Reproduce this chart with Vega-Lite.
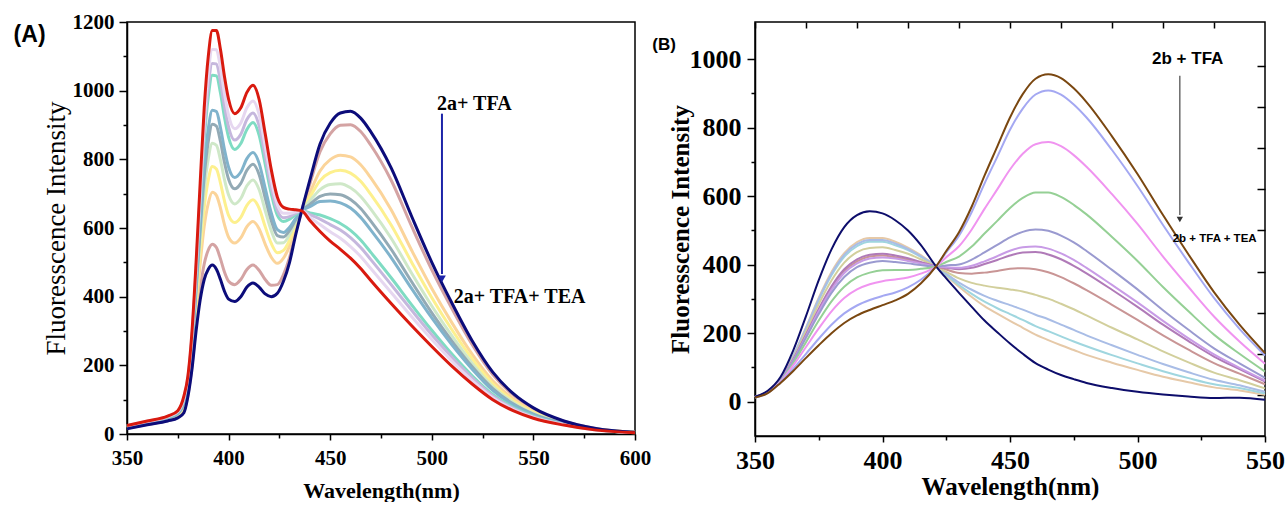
{
"$schema":"https://vega.github.io/schema/vega-lite/v6.json",
"background":"white",
"padding":{"left":12,"top":10,"right":0,"bottom":0},
"bounds":"flush",
"spacing":120,
"resolve":{"scale":{"color":"independent"}},
"config":{"view":{"stroke":"black","strokeWidth":1.5},"axis":{"grid":false,"domainColor":"black","domainWidth":1.5,"tickColor":"black","tickWidth":1.5,"labelColor":"black","titleColor":"black"}},
"datasets":{
"A":[
{"s":"n","w":350,"i":15},{"s":"n","w":360,"i":27},{"s":"n","w":370,"i":38},{"s":"n","w":375,"i":47},{"s":"n","w":378,"i":62},{"s":"n","w":380,"i":110},{"s":"n","w":382,"i":190},{"s":"n","w":384,"i":300},{"s":"n","w":386,"i":390},{"s":"n","w":388,"i":450},{"s":"n","w":390,"i":480},{"s":"n","w":392,"i":492},{"s":"n","w":394,"i":480},{"s":"n","w":396,"i":450},{"s":"n","w":398,"i":415},{"s":"n","w":400,"i":393},{"s":"n","w":403,"i":386},{"s":"n","w":406,"i":400},{"s":"n","w":409,"i":428},{"s":"n","w":412,"i":440},{"s":"n","w":415,"i":428},{"s":"n","w":418,"i":408},{"s":"n","w":421,"i":400},{"s":"n","w":424,"i":410},{"s":"n","w":427,"i":445},{"s":"n","w":430,"i":500},{"s":"n","w":433,"i":580},{"s":"n","w":436,"i":651},{"s":"n","w":440,"i":740},{"s":"n","w":445,"i":845},{"s":"n","w":450,"i":905},{"s":"n","w":455,"i":935},{"s":"n","w":460,"i":940},{"s":"n","w":465,"i":920},{"s":"n","w":470,"i":880},{"s":"n","w":480,"i":775},{"s":"n","w":490,"i":635},{"s":"n","w":500,"i":500},{"s":"n","w":510,"i":380},{"s":"n","w":520,"i":270},{"s":"n","w":530,"i":180},{"s":"n","w":540,"i":118},{"s":"n","w":550,"i":76},{"s":"n","w":565,"i":38},{"s":"n","w":580,"i":17},{"s":"n","w":600,"i":5},
{"s":"p1","w":350,"i":16},{"s":"p1","w":360,"i":28},{"s":"p1","w":370,"i":39},{"s":"p1","w":375,"i":49},{"s":"p1","w":378,"i":66},{"s":"p1","w":380,"i":115},{"s":"p1","w":382,"i":200},{"s":"p1","w":384,"i":318},{"s":"p1","w":386,"i":421},{"s":"p1","w":388,"i":495},{"s":"p1","w":390,"i":536},{"s":"p1","w":392,"i":553},{"s":"p1","w":394,"i":543},{"s":"p1","w":396,"i":510},{"s":"p1","w":398,"i":471},{"s":"p1","w":400,"i":445},{"s":"p1","w":403,"i":435},{"s":"p1","w":406,"i":450},{"s":"p1","w":409,"i":479},{"s":"p1","w":412,"i":492},{"s":"p1","w":415,"i":477},{"s":"p1","w":418,"i":450},{"s":"p1","w":421,"i":433},{"s":"p1","w":424,"i":435},{"s":"p1","w":427,"i":464},{"s":"p1","w":430,"i":514},{"s":"p1","w":433,"i":587},{"s":"p1","w":436,"i":651},{"s":"p1","w":440,"i":729},{"s":"p1","w":445,"i":822},{"s":"p1","w":450,"i":874},{"s":"p1","w":455,"i":899},{"s":"p1","w":460,"i":901},{"s":"p1","w":465,"i":881},{"s":"p1","w":470,"i":841},{"s":"p1","w":480,"i":739},{"s":"p1","w":490,"i":606},{"s":"p1","w":500,"i":478},{"s":"p1","w":510,"i":364},{"s":"p1","w":520,"i":259},{"s":"p1","w":530,"i":173},{"s":"p1","w":540,"i":114},{"s":"p1","w":550,"i":73},{"s":"p1","w":565,"i":37},{"s":"p1","w":580,"i":17},{"s":"p1","w":600,"i":5},
{"s":"p2","w":350,"i":18},{"s":"p2","w":360,"i":30},{"s":"p2","w":370,"i":42},{"s":"p2","w":375,"i":54},{"s":"p2","w":378,"i":77},{"s":"p2","w":380,"i":129},{"s":"p2","w":382,"i":224},{"s":"p2","w":384,"i":362},{"s":"p2","w":386,"i":495},{"s":"p2","w":388,"i":605},{"s":"p2","w":390,"i":672},{"s":"p2","w":392,"i":704},{"s":"p2","w":394,"i":695},{"s":"p2","w":396,"i":658},{"s":"p2","w":398,"i":609},{"s":"p2","w":400,"i":573},{"s":"p2","w":403,"i":556},{"s":"p2","w":406,"i":571},{"s":"p2","w":409,"i":604},{"s":"p2","w":412,"i":619},{"s":"p2","w":415,"i":598},{"s":"p2","w":418,"i":553},{"s":"p2","w":421,"i":515},{"s":"p2","w":424,"i":497},{"s":"p2","w":427,"i":512},{"s":"p2","w":430,"i":548},{"s":"p2","w":433,"i":603},{"s":"p2","w":436,"i":651},{"s":"p2","w":440,"i":703},{"s":"p2","w":445,"i":766},{"s":"p2","w":450,"i":799},{"s":"p2","w":455,"i":812},{"s":"p2","w":460,"i":807},{"s":"p2","w":465,"i":784},{"s":"p2","w":470,"i":746},{"s":"p2","w":480,"i":653},{"s":"p2","w":490,"i":536},{"s":"p2","w":500,"i":424},{"s":"p2","w":510,"i":323},{"s":"p2","w":520,"i":231},{"s":"p2","w":530,"i":155},{"s":"p2","w":540,"i":103},{"s":"p2","w":550,"i":67},{"s":"p2","w":565,"i":34},{"s":"p2","w":580,"i":15},{"s":"p2","w":600,"i":5},
{"s":"p3","w":350,"i":19},{"s":"p3","w":360,"i":32},{"s":"p3","w":370,"i":44},{"s":"p3","w":375,"i":56},{"s":"p3","w":378,"i":82},{"s":"p3","w":380,"i":135},{"s":"p3","w":382,"i":236},{"s":"p3","w":384,"i":384},{"s":"p3","w":386,"i":533},{"s":"p3","w":388,"i":660},{"s":"p3","w":390,"i":740},{"s":"p3","w":392,"i":779},{"s":"p3","w":394,"i":772},{"s":"p3","w":396,"i":731},{"s":"p3","w":398,"i":678},{"s":"p3","w":400,"i":637},{"s":"p3","w":403,"i":616},{"s":"p3","w":406,"i":631},{"s":"p3","w":409,"i":666},{"s":"p3","w":412,"i":682},{"s":"p3","w":415,"i":658},{"s":"p3","w":418,"i":604},{"s":"p3","w":421,"i":555},{"s":"p3","w":424,"i":528},{"s":"p3","w":427,"i":535},{"s":"p3","w":430,"i":565},{"s":"p3","w":433,"i":611},{"s":"p3","w":436,"i":651},{"s":"p3","w":440,"i":690},{"s":"p3","w":445,"i":738},{"s":"p3","w":450,"i":761},{"s":"p3","w":455,"i":768},{"s":"p3","w":460,"i":760},{"s":"p3","w":465,"i":736},{"s":"p3","w":470,"i":698},{"s":"p3","w":480,"i":609},{"s":"p3","w":490,"i":501},{"s":"p3","w":500,"i":397},{"s":"p3","w":510,"i":303},{"s":"p3","w":520,"i":218},{"s":"p3","w":530,"i":146},{"s":"p3","w":540,"i":97},{"s":"p3","w":550,"i":63},{"s":"p3","w":565,"i":33},{"s":"p3","w":580,"i":15},{"s":"p3","w":600,"i":5},
{"s":"p4","w":350,"i":20},{"s":"p4","w":360,"i":33},{"s":"p4","w":370,"i":45},{"s":"p4","w":375,"i":58},{"s":"p4","w":378,"i":87},{"s":"p4","w":380,"i":141},{"s":"p4","w":382,"i":247},{"s":"p4","w":384,"i":404},{"s":"p4","w":386,"i":567},{"s":"p4","w":388,"i":710},{"s":"p4","w":390,"i":802},{"s":"p4","w":392,"i":847},{"s":"p4","w":394,"i":841},{"s":"p4","w":396,"i":798},{"s":"p4","w":398,"i":740},{"s":"p4","w":400,"i":696},{"s":"p4","w":403,"i":670},{"s":"p4","w":406,"i":686},{"s":"p4","w":409,"i":723},{"s":"p4","w":412,"i":740},{"s":"p4","w":415,"i":712},{"s":"p4","w":418,"i":651},{"s":"p4","w":421,"i":592},{"s":"p4","w":424,"i":556},{"s":"p4","w":427,"i":557},{"s":"p4","w":430,"i":581},{"s":"p4","w":433,"i":618},{"s":"p4","w":436,"i":650},{"s":"p4","w":440,"i":679},{"s":"p4","w":445,"i":712},{"s":"p4","w":450,"i":727},{"s":"p4","w":455,"i":729},{"s":"p4","w":460,"i":717},{"s":"p4","w":465,"i":692},{"s":"p4","w":470,"i":655},{"s":"p4","w":480,"i":570},{"s":"p4","w":490,"i":469},{"s":"p4","w":500,"i":373},{"s":"p4","w":510,"i":285},{"s":"p4","w":520,"i":205},{"s":"p4","w":530,"i":138},{"s":"p4","w":540,"i":92},{"s":"p4","w":550,"i":60},{"s":"p4","w":565,"i":32},{"s":"p4","w":580,"i":14},{"s":"p4","w":600,"i":4},
{"s":"p5","w":350,"i":21},{"s":"p5","w":360,"i":34},{"s":"p5","w":370,"i":46},{"s":"p5","w":375,"i":60},{"s":"p5","w":378,"i":91},{"s":"p5","w":380,"i":146},{"s":"p5","w":382,"i":256},{"s":"p5","w":384,"i":420},{"s":"p5","w":386,"i":594},{"s":"p5","w":388,"i":750},{"s":"p5","w":390,"i":852},{"s":"p5","w":392,"i":902},{"s":"p5","w":394,"i":897},{"s":"p5","w":396,"i":852},{"s":"p5","w":398,"i":790},{"s":"p5","w":400,"i":742},{"s":"p5","w":403,"i":714},{"s":"p5","w":406,"i":730},{"s":"p5","w":409,"i":768},{"s":"p5","w":412,"i":786},{"s":"p5","w":415,"i":756},{"s":"p5","w":418,"i":688},{"s":"p5","w":421,"i":622},{"s":"p5","w":424,"i":578},{"s":"p5","w":427,"i":574},{"s":"p5","w":430,"i":593},{"s":"p5","w":433,"i":624},{"s":"p5","w":436,"i":650},{"s":"p5","w":440,"i":669},{"s":"p5","w":445,"i":692},{"s":"p5","w":450,"i":699},{"s":"p5","w":455,"i":697},{"s":"p5","w":460,"i":683},{"s":"p5","w":465,"i":657},{"s":"p5","w":470,"i":620},{"s":"p5","w":480,"i":538},{"s":"p5","w":490,"i":444},{"s":"p5","w":500,"i":353},{"s":"p5","w":510,"i":270},{"s":"p5","w":520,"i":195},{"s":"p5","w":530,"i":132},{"s":"p5","w":540,"i":88},{"s":"p5","w":550,"i":58},{"s":"p5","w":565,"i":31},{"s":"p5","w":580,"i":14},{"s":"p5","w":600,"i":4},
{"s":"p6","w":350,"i":22},{"s":"p6","w":360,"i":34},{"s":"p6","w":370,"i":47},{"s":"p6","w":375,"i":61},{"s":"p6","w":378,"i":94},{"s":"p6","w":380,"i":150},{"s":"p6","w":382,"i":263},{"s":"p6","w":384,"i":432},{"s":"p6","w":386,"i":614},{"s":"p6","w":388,"i":780},{"s":"p6","w":390,"i":889},{"s":"p6","w":392,"i":943},{"s":"p6","w":394,"i":939},{"s":"p6","w":396,"i":892},{"s":"p6","w":398,"i":828},{"s":"p6","w":400,"i":777},{"s":"p6","w":403,"i":747},{"s":"p6","w":406,"i":763},{"s":"p6","w":409,"i":802},{"s":"p6","w":412,"i":820},{"s":"p6","w":415,"i":789},{"s":"p6","w":418,"i":716},{"s":"p6","w":421,"i":644},{"s":"p6","w":424,"i":595},{"s":"p6","w":427,"i":587},{"s":"p6","w":430,"i":602},{"s":"p6","w":433,"i":628},{"s":"p6","w":436,"i":650},{"s":"p6","w":440,"i":662},{"s":"p6","w":445,"i":677},{"s":"p6","w":450,"i":679},{"s":"p6","w":455,"i":673},{"s":"p6","w":460,"i":658},{"s":"p6","w":465,"i":631},{"s":"p6","w":470,"i":594},{"s":"p6","w":480,"i":514},{"s":"p6","w":490,"i":424},{"s":"p6","w":500,"i":338},{"s":"p6","w":510,"i":259},{"s":"p6","w":520,"i":188},{"s":"p6","w":530,"i":127},{"s":"p6","w":540,"i":85},{"s":"p6","w":550,"i":56},{"s":"p6","w":565,"i":30},{"s":"p6","w":580,"i":14},{"s":"p6","w":600,"i":4},
{"s":"p7","w":350,"i":23},{"s":"p7","w":360,"i":36},{"s":"p7","w":370,"i":49},{"s":"p7","w":375,"i":64},{"s":"p7","w":378,"i":101},{"s":"p7","w":380,"i":159},{"s":"p7","w":382,"i":279},{"s":"p7","w":384,"i":462},{"s":"p7","w":386,"i":665},{"s":"p7","w":388,"i":855},{"s":"p7","w":390,"i":982},{"s":"p7","w":392,"i":1045},{"s":"p7","w":394,"i":1043},{"s":"p7","w":396,"i":993},{"s":"p7","w":398,"i":921},{"s":"p7","w":400,"i":864},{"s":"p7","w":403,"i":829},{"s":"p7","w":406,"i":846},{"s":"p7","w":409,"i":887},{"s":"p7","w":412,"i":907},{"s":"p7","w":415,"i":871},{"s":"p7","w":418,"i":786},{"s":"p7","w":421,"i":700},{"s":"p7","w":424,"i":637},{"s":"p7","w":427,"i":619},{"s":"p7","w":430,"i":626},{"s":"p7","w":433,"i":639},{"s":"p7","w":436,"i":650},{"s":"p7","w":440,"i":644},{"s":"p7","w":445,"i":638},{"s":"p7","w":450,"i":627},{"s":"p7","w":455,"i":613},{"s":"p7","w":460,"i":593},{"s":"p7","w":465,"i":565},{"s":"p7","w":470,"i":529},{"s":"p7","w":480,"i":455},{"s":"p7","w":490,"i":377},{"s":"p7","w":500,"i":302},{"s":"p7","w":510,"i":232},{"s":"p7","w":520,"i":169},{"s":"p7","w":530,"i":115},{"s":"p7","w":540,"i":78},{"s":"p7","w":550,"i":52},{"s":"p7","w":565,"i":28},{"s":"p7","w":580,"i":13},{"s":"p7","w":600,"i":4},
{"s":"p8","w":350,"i":24},{"s":"p8","w":360,"i":36},{"s":"p8","w":370,"i":50},{"s":"p8","w":375,"i":65},{"s":"p8","w":378,"i":103},{"s":"p8","w":380,"i":162},{"s":"p8","w":382,"i":285},{"s":"p8","w":384,"i":472},{"s":"p8","w":386,"i":682},{"s":"p8","w":388,"i":880},{"s":"p8","w":390,"i":1013},{"s":"p8","w":392,"i":1079},{"s":"p8","w":394,"i":1078},{"s":"p8","w":396,"i":1026},{"s":"p8","w":398,"i":953},{"s":"p8","w":400,"i":894},{"s":"p8","w":403,"i":856},{"s":"p8","w":406,"i":873},{"s":"p8","w":409,"i":916},{"s":"p8","w":412,"i":935},{"s":"p8","w":415,"i":898},{"s":"p8","w":418,"i":810},{"s":"p8","w":421,"i":718},{"s":"p8","w":424,"i":651},{"s":"p8","w":427,"i":630},{"s":"p8","w":430,"i":633},{"s":"p8","w":433,"i":643},{"s":"p8","w":436,"i":650},{"s":"p8","w":440,"i":639},{"s":"p8","w":445,"i":626},{"s":"p8","w":450,"i":610},{"s":"p8","w":455,"i":594},{"s":"p8","w":460,"i":572},{"s":"p8","w":465,"i":543},{"s":"p8","w":470,"i":508},{"s":"p8","w":480,"i":435},{"s":"p8","w":490,"i":361},{"s":"p8","w":500,"i":289},{"s":"p8","w":510,"i":223},{"s":"p8","w":520,"i":163},{"s":"p8","w":530,"i":111},{"s":"p8","w":540,"i":75},{"s":"p8","w":550,"i":50},{"s":"p8","w":565,"i":28},{"s":"p8","w":580,"i":13},{"s":"p8","w":600,"i":4},
{"s":"p9","w":350,"i":24},{"s":"p9","w":360,"i":37},{"s":"p9","w":370,"i":51},{"s":"p9","w":375,"i":66},{"s":"p9","w":378,"i":106},{"s":"p9","w":380,"i":165},{"s":"p9","w":382,"i":291},{"s":"p9","w":384,"i":484},{"s":"p9","w":386,"i":703},{"s":"p9","w":388,"i":910},{"s":"p9","w":390,"i":1050},{"s":"p9","w":392,"i":1120},{"s":"p9","w":394,"i":1119},{"s":"p9","w":396,"i":1066},{"s":"p9","w":398,"i":990},{"s":"p9","w":400,"i":928},{"s":"p9","w":403,"i":889},{"s":"p9","w":406,"i":906},{"s":"p9","w":409,"i":950},{"s":"p9","w":412,"i":970},{"s":"p9","w":415,"i":931},{"s":"p9","w":418,"i":838},{"s":"p9","w":421,"i":740},{"s":"p9","w":424,"i":668},{"s":"p9","w":427,"i":643},{"s":"p9","w":430,"i":643},{"s":"p9","w":433,"i":647},{"s":"p9","w":436,"i":650},{"s":"p9","w":440,"i":631},{"s":"p9","w":445,"i":610},{"s":"p9","w":450,"i":589},{"s":"p9","w":455,"i":570},{"s":"p9","w":460,"i":546},{"s":"p9","w":465,"i":517},{"s":"p9","w":470,"i":482},{"s":"p9","w":480,"i":412},{"s":"p9","w":490,"i":342},{"s":"p9","w":500,"i":275},{"s":"p9","w":510,"i":212},{"s":"p9","w":520,"i":155},{"s":"p9","w":530,"i":106},{"s":"p9","w":540,"i":72},{"s":"p9","w":550,"i":48},{"s":"p9","w":565,"i":27},{"s":"p9","w":580,"i":12},{"s":"p9","w":600,"i":4},
{"s":"r","w":350,"i":25},{"s":"r","w":360,"i":38},{"s":"r","w":370,"i":52},{"s":"r","w":375,"i":68},{"s":"r","w":378,"i":110},{"s":"r","w":380,"i":170},{"s":"r","w":382,"i":300},{"s":"r","w":384,"i":500},{"s":"r","w":386,"i":730},{"s":"r","w":388,"i":950},{"s":"r","w":390,"i":1100},{"s":"r","w":392,"i":1175},{"s":"r","w":394,"i":1175},{"s":"r","w":396,"i":1120},{"s":"r","w":398,"i":1040},{"s":"r","w":400,"i":975},{"s":"r","w":403,"i":933},{"s":"r","w":406,"i":950},{"s":"r","w":409,"i":995},{"s":"r","w":412,"i":1016},{"s":"r","w":415,"i":975},{"s":"r","w":418,"i":875},{"s":"r","w":421,"i":770},{"s":"r","w":424,"i":690},{"s":"r","w":427,"i":660},{"s":"r","w":430,"i":655},{"s":"r","w":433,"i":653},{"s":"r","w":436,"i":650},{"s":"r","w":440,"i":622},{"s":"r","w":445,"i":590},{"s":"r","w":450,"i":562},{"s":"r","w":455,"i":538},{"s":"r","w":460,"i":512},{"s":"r","w":465,"i":482},{"s":"r","w":470,"i":447},{"s":"r","w":480,"i":380},{"s":"r","w":490,"i":316},{"s":"r","w":500,"i":255},{"s":"r","w":510,"i":197},{"s":"r","w":520,"i":145},{"s":"r","w":530,"i":100},{"s":"r","w":540,"i":68},{"s":"r","w":550,"i":46},{"s":"r","w":565,"i":26},{"s":"r","w":580,"i":12},{"s":"r","w":600,"i":4}
],
"B":[
{"s":"t","w":350,"i":14},{"s":"t","w":355,"i":30},{"s":"t","w":360,"i":67},{"s":"t","w":365,"i":134},{"s":"t","w":370,"i":217},{"s":"t","w":375,"i":304},{"s":"t","w":380,"i":379},{"s":"t","w":385,"i":434},{"s":"t","w":390,"i":466},{"s":"t","w":395,"i":478},{"s":"t","w":400,"i":478},{"s":"t","w":405,"i":467},{"s":"t","w":410,"i":450},{"s":"t","w":415,"i":428},{"s":"t","w":421,"i":395},{"s":"t","w":425,"i":368},{"s":"t","w":430,"i":336},{"s":"t","w":435,"i":306},{"s":"t","w":440,"i":279},{"s":"t","w":445,"i":257},{"s":"t","w":450,"i":236},{"s":"t","w":455,"i":216},{"s":"t","w":460,"i":196},{"s":"t","w":465,"i":180},{"s":"t","w":470,"i":165},{"s":"t","w":475,"i":151},{"s":"t","w":480,"i":137},{"s":"t","w":490,"i":114},{"s":"t","w":500,"i":93},{"s":"t","w":510,"i":73},{"s":"t","w":520,"i":57},{"s":"t","w":530,"i":42},{"s":"t","w":540,"i":33},{"s":"t","w":550,"i":20},
{"s":"c","w":350,"i":14},{"s":"c","w":355,"i":30},{"s":"c","w":360,"i":67},{"s":"c","w":365,"i":131},{"s":"c","w":370,"i":212},{"s":"c","w":375,"i":296},{"s":"c","w":380,"i":369},{"s":"c","w":385,"i":423},{"s":"c","w":390,"i":454},{"s":"c","w":395,"i":467},{"s":"c","w":400,"i":467},{"s":"c","w":405,"i":457},{"s":"c","w":410,"i":443},{"s":"c","w":415,"i":423},{"s":"c","w":421,"i":395},{"s":"c","w":425,"i":370},{"s":"c","w":430,"i":341},{"s":"c","w":435,"i":315},{"s":"c","w":440,"i":292},{"s":"c","w":445,"i":273},{"s":"c","w":450,"i":256},{"s":"c","w":455,"i":239},{"s":"c","w":460,"i":221},{"s":"c","w":465,"i":206},{"s":"c","w":470,"i":191},{"s":"c","w":475,"i":176},{"s":"c","w":480,"i":162},{"s":"c","w":490,"i":136},{"s":"c","w":500,"i":112},{"s":"c","w":510,"i":89},{"s":"c","w":520,"i":69},{"s":"c","w":530,"i":51},{"s":"c","w":540,"i":40},{"s":"c","w":550,"i":24},
{"s":"lb","w":350,"i":14},{"s":"lb","w":355,"i":30},{"s":"lb","w":360,"i":67},{"s":"lb","w":365,"i":133},{"s":"lb","w":370,"i":215},{"s":"lb","w":375,"i":300},{"s":"lb","w":380,"i":374},{"s":"lb","w":385,"i":429},{"s":"lb","w":390,"i":460},{"s":"lb","w":395,"i":472},{"s":"lb","w":400,"i":472},{"s":"lb","w":405,"i":462},{"s":"lb","w":410,"i":446},{"s":"lb","w":415,"i":425},{"s":"lb","w":421,"i":395},{"s":"lb","w":425,"i":374},{"s":"lb","w":430,"i":348},{"s":"lb","w":435,"i":327},{"s":"lb","w":440,"i":309},{"s":"lb","w":445,"i":295},{"s":"lb","w":450,"i":282},{"s":"lb","w":455,"i":269},{"s":"lb","w":460,"i":254},{"s":"lb","w":465,"i":241},{"s":"lb","w":470,"i":225},{"s":"lb","w":475,"i":210},{"s":"lb","w":480,"i":194},{"s":"lb","w":490,"i":165},{"s":"lb","w":500,"i":137},{"s":"lb","w":510,"i":110},{"s":"lb","w":520,"i":86},{"s":"lb","w":530,"i":64},{"s":"lb","w":540,"i":48},{"s":"lb","w":550,"i":29},
{"s":"k","w":350,"i":14},{"s":"k","w":355,"i":29},{"s":"k","w":360,"i":66},{"s":"k","w":365,"i":128},{"s":"k","w":370,"i":205},{"s":"k","w":375,"i":285},{"s":"k","w":380,"i":354},{"s":"k","w":385,"i":406},{"s":"k","w":390,"i":437},{"s":"k","w":395,"i":449},{"s":"k","w":400,"i":451},{"s":"k","w":405,"i":443},{"s":"k","w":410,"i":432},{"s":"k","w":415,"i":416},{"s":"k","w":421,"i":395},{"s":"k","w":425,"i":379},{"s":"k","w":430,"i":360},{"s":"k","w":435,"i":347},{"s":"k","w":440,"i":339},{"s":"k","w":445,"i":333},{"s":"k","w":450,"i":328},{"s":"k","w":455,"i":322},{"s":"k","w":460,"i":312},{"s":"k","w":465,"i":301},{"s":"k","w":470,"i":286},{"s":"k","w":475,"i":270},{"s":"k","w":480,"i":252},{"s":"k","w":490,"i":216},{"s":"k","w":500,"i":182},{"s":"k","w":510,"i":147},{"s":"k","w":520,"i":115},{"s":"k","w":530,"i":85},{"s":"k","w":540,"i":63},{"s":"k","w":550,"i":39},
{"s":"ro","w":350,"i":14},{"s":"ro","w":355,"i":29},{"s":"ro","w":360,"i":64},{"s":"ro","w":365,"i":122},{"s":"ro","w":370,"i":194},{"s":"ro","w":375,"i":268},{"s":"ro","w":380,"i":332},{"s":"ro","w":385,"i":381},{"s":"ro","w":390,"i":410},{"s":"ro","w":395,"i":424},{"s":"ro","w":400,"i":427},{"s":"ro","w":405,"i":422},{"s":"ro","w":410,"i":415},{"s":"ro","w":415,"i":406},{"s":"ro","w":421,"i":395},{"s":"ro","w":425,"i":386},{"s":"ro","w":430,"i":376},{"s":"ro","w":435,"i":374},{"s":"ro","w":440,"i":377},{"s":"ro","w":445,"i":382},{"s":"ro","w":450,"i":388},{"s":"ro","w":455,"i":390},{"s":"ro","w":460,"i":387},{"s":"ro","w":465,"i":378},{"s":"ro","w":470,"i":364},{"s":"ro","w":475,"i":346},{"s":"ro","w":480,"i":326},{"s":"ro","w":490,"i":283},{"s":"ro","w":500,"i":239},{"s":"ro","w":510,"i":194},{"s":"ro","w":520,"i":152},{"s":"ro","w":530,"i":113},{"s":"ro","w":540,"i":82},{"s":"ro","w":550,"i":51},
{"s":"m","w":350,"i":14},{"s":"m","w":355,"i":29},{"s":"m","w":360,"i":65},{"s":"m","w":365,"i":124},{"s":"m","w":370,"i":196},{"s":"m","w":375,"i":271},{"s":"m","w":380,"i":337},{"s":"m","w":385,"i":387},{"s":"m","w":390,"i":416},{"s":"m","w":395,"i":429},{"s":"m","w":400,"i":432},{"s":"m","w":405,"i":427},{"s":"m","w":410,"i":419},{"s":"m","w":415,"i":408},{"s":"m","w":421,"i":395},{"s":"m","w":425,"i":391},{"s":"m","w":430,"i":387},{"s":"m","w":435,"i":391},{"s":"m","w":440,"i":402},{"s":"m","w":445,"i":414},{"s":"m","w":450,"i":427},{"s":"m","w":455,"i":436},{"s":"m","w":460,"i":437},{"s":"m","w":465,"i":430},{"s":"m","w":470,"i":416},{"s":"m","w":475,"i":397},{"s":"m","w":480,"i":375},{"s":"m","w":490,"i":327},{"s":"m","w":500,"i":277},{"s":"m","w":510,"i":225},{"s":"m","w":520,"i":177},{"s":"m","w":530,"i":132},{"s":"m","w":540,"i":95},{"s":"m","w":550,"i":59},
{"s":"v","w":350,"i":14},{"s":"v","w":355,"i":29},{"s":"v","w":360,"i":64},{"s":"v","w":365,"i":121},{"s":"v","w":370,"i":191},{"s":"v","w":375,"i":264},{"s":"v","w":380,"i":327},{"s":"v","w":385,"i":376},{"s":"v","w":390,"i":404},{"s":"v","w":395,"i":418},{"s":"v","w":400,"i":421},{"s":"v","w":405,"i":418},{"s":"v","w":410,"i":411},{"s":"v","w":415,"i":404},{"s":"v","w":421,"i":395},{"s":"v","w":425,"i":393},{"s":"v","w":430,"i":391},{"s":"v","w":435,"i":397},{"s":"v","w":440,"i":410},{"s":"v","w":445,"i":425},{"s":"v","w":450,"i":441},{"s":"v","w":455,"i":451},{"s":"v","w":460,"i":453},{"s":"v","w":465,"i":447},{"s":"v","w":470,"i":433},{"s":"v","w":475,"i":414},{"s":"v","w":480,"i":391},{"s":"v","w":490,"i":341},{"s":"v","w":500,"i":290},{"s":"v","w":510,"i":236},{"s":"v","w":520,"i":185},{"s":"v","w":530,"i":138},{"s":"v","w":540,"i":99},{"s":"v","w":550,"i":62},
{"s":"sl","w":350,"i":13},{"s":"sl","w":355,"i":28},{"s":"sl","w":360,"i":63},{"s":"sl","w":365,"i":119},{"s":"sl","w":370,"i":187},{"s":"sl","w":375,"i":256},{"s":"sl","w":380,"i":318},{"s":"sl","w":385,"i":364},{"s":"sl","w":390,"i":393},{"s":"sl","w":395,"i":406},{"s":"sl","w":400,"i":411},{"s":"sl","w":405,"i":408},{"s":"sl","w":410,"i":404},{"s":"sl","w":415,"i":399},{"s":"sl","w":421,"i":395},{"s":"sl","w":425,"i":398},{"s":"sl","w":430,"i":401},{"s":"sl","w":435,"i":415},{"s":"sl","w":440,"i":436},{"s":"sl","w":445,"i":458},{"s":"sl","w":450,"i":480},{"s":"sl","w":455,"i":496},{"s":"sl","w":460,"i":503},{"s":"sl","w":465,"i":499},{"s":"sl","w":470,"i":485},{"s":"sl","w":475,"i":465},{"s":"sl","w":480,"i":440},{"s":"sl","w":490,"i":385},{"s":"sl","w":500,"i":328},{"s":"sl","w":510,"i":267},{"s":"sl","w":520,"i":210},{"s":"sl","w":530,"i":156},{"s":"sl","w":540,"i":112},{"s":"sl","w":550,"i":70},
{"s":"g","w":350,"i":13},{"s":"g","w":355,"i":28},{"s":"g","w":360,"i":61},{"s":"g","w":365,"i":113},{"s":"g","w":370,"i":174},{"s":"g","w":375,"i":237},{"s":"g","w":380,"i":293},{"s":"g","w":385,"i":336},{"s":"g","w":390,"i":363},{"s":"g","w":395,"i":377},{"s":"g","w":400,"i":384},{"s":"g","w":405,"i":385},{"s":"g","w":410,"i":385},{"s":"g","w":415,"i":388},{"s":"g","w":421,"i":395},{"s":"g","w":425,"i":408},{"s":"g","w":430,"i":424},{"s":"g","w":435,"i":453},{"s":"g","w":440,"i":491},{"s":"g","w":445,"i":528},{"s":"g","w":450,"i":566},{"s":"g","w":455,"i":595},{"s":"g","w":460,"i":611},{"s":"g","w":465,"i":611},{"s":"g","w":470,"i":598},{"s":"g","w":475,"i":575},{"s":"g","w":480,"i":547},{"s":"g","w":490,"i":481},{"s":"g","w":500,"i":411},{"s":"g","w":510,"i":335},{"s":"g","w":520,"i":264},{"s":"g","w":530,"i":196},{"s":"g","w":540,"i":140},{"s":"g","w":550,"i":88},
{"s":"mg","w":350,"i":13},{"s":"mg","w":355,"i":27},{"s":"mg","w":360,"i":59},{"s":"mg","w":365,"i":106},{"s":"mg","w":370,"i":160},{"s":"mg","w":375,"i":214},{"s":"mg","w":380,"i":264},{"s":"mg","w":385,"i":303},{"s":"mg","w":390,"i":328},{"s":"mg","w":395,"i":343},{"s":"mg","w":400,"i":352},{"s":"mg","w":405,"i":357},{"s":"mg","w":410,"i":363},{"s":"mg","w":415,"i":374},{"s":"mg","w":421,"i":395},{"s":"mg","w":425,"i":422},{"s":"mg","w":430,"i":454},{"s":"mg","w":435,"i":503},{"s":"mg","w":440,"i":563},{"s":"mg","w":445,"i":620},{"s":"mg","w":450,"i":678},{"s":"mg","w":455,"i":724},{"s":"mg","w":460,"i":752},{"s":"mg","w":465,"i":758},{"s":"mg","w":470,"i":746},{"s":"mg","w":475,"i":720},{"s":"mg","w":480,"i":686},{"s":"mg","w":490,"i":606},{"s":"mg","w":500,"i":519},{"s":"mg","w":510,"i":424},{"s":"mg","w":520,"i":335},{"s":"mg","w":530,"i":249},{"s":"mg","w":540,"i":176},{"s":"mg","w":550,"i":111},
{"s":"bl","w":350,"i":12},{"s":"bl","w":355,"i":26},{"s":"bl","w":360,"i":57},{"s":"bl","w":365,"i":96},{"s":"bl","w":370,"i":140},{"s":"bl","w":375,"i":184},{"s":"bl","w":380,"i":225},{"s":"bl","w":385,"i":258},{"s":"bl","w":390,"i":281},{"s":"bl","w":395,"i":297},{"s":"bl","w":400,"i":309},{"s":"bl","w":405,"i":319},{"s":"bl","w":410,"i":334},{"s":"bl","w":415,"i":356},{"s":"bl","w":421,"i":395},{"s":"bl","w":425,"i":436},{"s":"bl","w":430,"i":485},{"s":"bl","w":435,"i":554},{"s":"bl","w":440,"i":637},{"s":"bl","w":445,"i":715},{"s":"bl","w":450,"i":794},{"s":"bl","w":455,"i":856},{"s":"bl","w":460,"i":897},{"s":"bl","w":465,"i":909},{"s":"bl","w":470,"i":897},{"s":"bl","w":475,"i":868},{"s":"bl","w":480,"i":830},{"s":"bl","w":490,"i":735},{"s":"bl","w":500,"i":630},{"s":"bl","w":510,"i":516},{"s":"bl","w":520,"i":407},{"s":"bl","w":530,"i":303},{"s":"bl","w":540,"i":213},{"s":"bl","w":550,"i":135},
{"s":"N","w":350,"i":15},{"s":"N","w":355,"i":32},{"s":"N","w":360,"i":72},{"s":"N","w":365,"i":150},{"s":"N","w":370,"i":250},{"s":"N","w":375,"i":355},{"s":"N","w":380,"i":445},{"s":"N","w":385,"i":510},{"s":"N","w":390,"i":545},{"s":"N","w":395,"i":556},{"s":"N","w":400,"i":550},{"s":"N","w":405,"i":530},{"s":"N","w":410,"i":500},{"s":"N","w":415,"i":458},{"s":"N","w":421,"i":395},{"s":"N","w":425,"i":360},{"s":"N","w":430,"i":318},{"s":"N","w":435,"i":277},{"s":"N","w":440,"i":237},{"s":"N","w":445,"i":203},{"s":"N","w":450,"i":170},{"s":"N","w":455,"i":140},{"s":"N","w":460,"i":113},{"s":"N","w":465,"i":94},{"s":"N","w":470,"i":78},{"s":"N","w":475,"i":66},{"s":"N","w":480,"i":55},{"s":"N","w":490,"i":40},{"s":"N","w":500,"i":29},{"s":"N","w":510,"i":21},{"s":"N","w":520,"i":15},{"s":"N","w":530,"i":11},{"s":"N","w":540,"i":12},{"s":"N","w":550,"i":6},
{"s":"Br","w":350,"i":12},{"s":"Br","w":355,"i":25},{"s":"Br","w":360,"i":55},{"s":"Br","w":365,"i":90},{"s":"Br","w":370,"i":128},{"s":"Br","w":375,"i":165},{"s":"Br","w":380,"i":200},{"s":"Br","w":385,"i":230},{"s":"Br","w":390,"i":252},{"s":"Br","w":395,"i":268},{"s":"Br","w":400,"i":282},{"s":"Br","w":405,"i":296},{"s":"Br","w":410,"i":315},{"s":"Br","w":415,"i":345},{"s":"Br","w":421,"i":395},{"s":"Br","w":425,"i":440},{"s":"Br","w":430,"i":495},{"s":"Br","w":435,"i":570},{"s":"Br","w":440,"i":660},{"s":"Br","w":445,"i":745},{"s":"Br","w":450,"i":830},{"s":"Br","w":455,"i":898},{"s":"Br","w":460,"i":943},{"s":"Br","w":465,"i":956},{"s":"Br","w":470,"i":945},{"s":"Br","w":475,"i":915},{"s":"Br","w":480,"i":875},{"s":"Br","w":490,"i":775},{"s":"Br","w":500,"i":665},{"s":"Br","w":510,"i":545},{"s":"Br","w":520,"i":430},{"s":"Br","w":530,"i":320},{"s":"Br","w":540,"i":225},{"s":"Br","w":550,"i":142}
]
},
"hconcat":[
{
"width":508,"height":412,
"layer":[
{"data":{"name":"A"},"transform":[{"filter":"datum.s != 'n' && datum.s != 'r'"}],
"mark":{"type":"line","strokeWidth":3,"interpolate":"monotone"},
"encoding":{
"x":{"field":"w","type":"quantitative","scale":{"domain":[350,600],"nice":false,"zero":false},
"axis":{"title":"Wavelength(nm)","orient":"bottom","values":[350,375,400,425,450,475,500,525,550,575,600],"format":"d","labelExpr":"datum.value % 50 === 0 ? datum.label : ''","tickSize":{"condition":{"test":"datum.value % 50 === 0","value":6},"value":4},"labelFont":"Liberation Serif","labelFontWeight":"bold","labelFontSize":21,"labelPadding":7,"labelFlush":false,"labelOverlap":false,"titleFont":"Liberation Serif","titleFontWeight":"bold","titleFontSize":22,"titlePadding":12}},
"y":{"field":"i","type":"quantitative","scale":{"domain":[0,1200],"nice":false,"zero":false},
"axis":{"title":"Fluoresscence Intensity","orient":"left","values":[0,100,200,300,400,500,600,700,800,900,1000,1100,1200],"format":"d","labelExpr":"datum.value % 200 === 0 ? datum.label : ''","tickSize":{"condition":{"test":"datum.value % 200 === 0","value":8},"value":4},"labelFont":"Liberation Serif","labelFontWeight":"bold","labelFontSize":21,"labelPadding":5,"labelFlush":false,"labelOverlap":false,"titleFont":"Liberation Serif","titleFontWeight":"normal","titleFontSize":27,"titlePadding":2}},
"color":{"field":"s","type":"nominal","legend":null,"scale":{"domain":["n","p1","p2","p3","p4","p5","p6","p7","p8","p9","r"],"range":["#0c0c7a","#d4a3a3","#fbd49a","#fdf08e","#cfe8c8","#93aab5","#80b3cc","#7fdcc3","#c5b7dd","#e6d7f0","#d91a0f"]}}
}},
{"data":{"name":"A"},"transform":[{"filter":"datum.s == 'n' || datum.s == 'r'"}],
"mark":{"type":"line","strokeWidth":3,"interpolate":"monotone"},
"encoding":{"x":{"field":"w","type":"quantitative","axis":null},"y":{"field":"i","type":"quantitative","axis":null},"color":{"field":"s","type":"nominal","legend":null}}},
{"data":{"values":[{"w":505,"i":933,"i2":466}]},"mark":{"type":"rule","color":"#1c24a8","strokeWidth":2},
"encoding":{"x":{"field":"w","type":"quantitative","axis":{"orient":"top","ticks":false,"labels":false,"title":null,"domain":false}},"y":{"field":"i","type":"quantitative","axis":{"orient":"right","ticks":false,"labels":false,"title":null,"domain":false}},"y2":{"field":"i2"}}},
{"data":{"values":[{"w":505,"i":452}]},"mark":{"type":"point","shape":"triangle-down","filled":true,"color":"#1c24a8","size":60,"opacity":1},
"encoding":{"x":{"field":"w","type":"quantitative","axis":null},"y":{"field":"i","type":"quantitative","axis":null}}},
{"data":{"values":[{"t":"2a+ TFA","w":502.6,"i":962},{"t":"2a+ TFA+ TEA","w":510.8,"i":400}]},"mark":{"type":"text","font":"Liberation Serif","fontWeight":"bold","fontSize":20,"align":"left","baseline":"middle","color":"black"},
"encoding":{"x":{"field":"w","type":"quantitative","axis":null},"y":{"field":"i","type":"quantitative","axis":null},"text":{"field":"t"}}},
{"data":{"values":[{"t":"(A)","w":294.2,"i":1163}]},"mark":{"type":"text","font":"Liberation Sans","fontWeight":"bold","fontSize":23,"align":"left","baseline":"middle","color":"black"},
"encoding":{"x":{"field":"w","type":"quantitative","axis":null},"y":{"field":"i","type":"quantitative","axis":null},"text":{"field":"t"}}}
]
},
{
"width":510,"height":414,
"layer":[
{"data":{"name":"B"},"transform":[{"filter":"datum.s != 'N' && datum.s != 'Br'"}],
"mark":{"type":"line","strokeWidth":2,"interpolate":"monotone"},
"encoding":{
"x":{"field":"w","type":"quantitative","scale":{"domain":[350,550],"nice":false,"zero":false},
"axis":{"title":"Wavelength(nm)","orient":"bottom","values":[350,375,400,425,450,475,500,525,550],"format":"d","labelExpr":"datum.value % 50 === 0 ? datum.label : ''","tickSize":{"condition":{"test":"datum.value % 50 === 0","value":6},"value":4},"labelFont":"Liberation Serif","labelFontWeight":"bold","labelFontSize":26,"labelPadding":5,"labelFlush":false,"labelOverlap":false,"titleFont":"Liberation Serif","titleFontWeight":"bold","titleFontSize":25,"titlePadding":1}},
"y":{"field":"i","type":"quantitative","scale":{"domain":[-100,1108.7],"nice":false,"zero":false},
"axis":{"title":"Fluoresscence Intensity","orient":"left","values":[0,100,200,300,400,500,600,700,800,900,1000],"format":"d","labelExpr":"datum.value % 200 === 0 ? datum.label : ''","tickSize":{"condition":{"test":"datum.value % 200 === 0","value":8},"value":4},"labelFont":"Liberation Serif","labelFontWeight":"bold","labelFontSize":26,"labelPadding":6,"labelFlush":false,"labelOverlap":false,"titleFont":"Liberation Serif","titleFontWeight":"bold","titleFontSize":25,"titlePadding":-4}},
"color":{"field":"s","type":"nominal","legend":null,"scale":{"domain":["t","c","lb","k","ro","m","v","sl","g","mg","bl","N","Br"],"range":["#e6c9a8","#9fd6df","#a9bde6","#d2cf9c","#c99595","#b07ab8","#c89be6","#9a9ad0","#95d095","#f094f0","#a4a8f2","#0d0d6b","#7a4710"]}}
}},
{"data":{"name":"B"},"transform":[{"filter":"datum.s == 'N' || datum.s == 'Br'"}],
"mark":{"type":"line","strokeWidth":2,"interpolate":"monotone"},
"encoding":{"x":{"field":"w","type":"quantitative","axis":null},"y":{"field":"i","type":"quantitative","axis":null},"color":{"field":"s","type":"nominal","legend":null}}},
{"data":{"values":[{"w":516.6,"i":952,"i2":545}]},"mark":{"type":"rule","color":"#555555","strokeWidth":1.3},
"encoding":{"x":{"field":"w","type":"quantitative","axis":{"orient":"top","values":[350,370,390,410,430,450,470,490,510,530],"labels":false,"title":null,"domain":false,"tickSize":-6}},"y":{"field":"i","type":"quantitative","axis":{"orient":"right","values":[20,140,260,380,500,620,740,860,980],"labels":false,"title":null,"domain":false,"tickSize":-8}},"y2":{"field":"i2"}}},
{"data":{"values":[{"w":516.6,"i":532}]},"mark":{"type":"point","shape":"triangle-down","filled":true,"color":"#333333","size":40,"opacity":1},
"encoding":{"x":{"field":"w","type":"quantitative","axis":null},"y":{"field":"i","type":"quantitative","axis":null}}},
{"data":{"values":[{"t":"2b + TFA","w":505.7,"i":1001},{"t":"(B)","w":309.7,"i":1042}]},"mark":{"type":"text","font":"Liberation Sans","fontWeight":"bold","fontSize":17,"align":"left","baseline":"middle","color":"black"},
"encoding":{"x":{"field":"w","type":"quantitative","axis":null},"y":{"field":"i","type":"quantitative","axis":null},"text":{"field":"t"}}},
{"data":{"values":[{"t":"2b + TFA + TEA","w":513.8,"i":476}]},"mark":{"type":"text","font":"Liberation Sans","fontWeight":"bold","fontSize":11.5,"align":"left","baseline":"middle","color":"black"},
"encoding":{"x":{"field":"w","type":"quantitative","axis":null},"y":{"field":"i","type":"quantitative","axis":null},"text":{"field":"t"}}}
]
}
]
}
